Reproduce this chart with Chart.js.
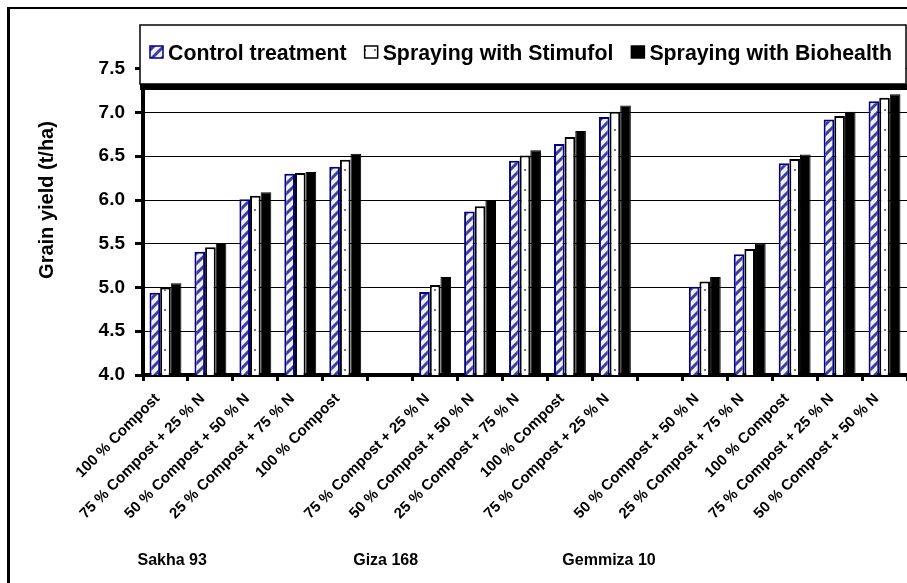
<!DOCTYPE html>
<html>
<head>
<meta charset="utf-8">
<script src="https://cdn.jsdelivr.net/npm/chart.js@4.4.1/dist/chart.umd.min.js"></script>
<style>
html, body { margin:0; padding:0; background:#fff; }
#wrap { width:907px; height:583px; position:relative; }
</style>
</head>
<body>
<div id="wrap"><canvas id="myChart" width="907" height="583"></canvas></div>
<script>
var treatments = ["100 % Compost", "75 % Compost + 25 % N", "50 % Compost + 50 % N", "25 % Compost + 75 % N",
  "100 % Compost", "", "75 % Compost + 25 % N", "50 % Compost + 50 % N", "25 % Compost + 75 % N",
  "100 % Compost", "75 % Compost + 25 % N", "", "50 % Compost + 50 % N", "25 % Compost + 75 % N",
  "100 % Compost", "75 % Compost + 25 % N", "50 % Compost + 50 % N"]
var controlYield   = [4.94, 5.41, 6.01, 6.30, 6.38, null, 4.95, 5.87, 6.45, 6.64, 6.95, null, 5.01, 5.38, 6.42, 6.92, 7.13]
var stimufolYield  = [5.00, 5.46, 6.05, 6.31, 6.46, null, 5.03, 5.93, 6.51, 6.72, 7.01, null, 5.07, 5.44, 6.47, 6.96, 7.17]
var biohealthYield = [5.05, 5.51, 6.09, 6.32, 6.53, null, 5.12, 6.00, 6.57, 6.79, 7.08, null, 5.12, 5.50, 6.52, 7.01, 7.21]
var seriesNames = ["Control treatment", "Spraying with Stimufol", "Spraying with Biohealth"]
var varieties = ["Sakha 93", "Giza 168", "Gemmiza 10"]
var varietyAt = [0.15, 4.9, 9.87]
var yMin = 4, yMax = 8, yStep = 0.5

var FONT = 'Arial, "Liberation Sans", sans-serif'

function hatchPattern() {
  var c = document.createElement('canvas'); c.width = 10; c.height = 10
  var g = c.getContext('2d')
  g.fillStyle = '#eef0ff'; g.fillRect(0, 0, 10, 10)
  g.strokeStyle = '#3d3d99'; g.lineWidth = 3
  g.beginPath(); g.moveTo(-2, 12); g.lineTo(12, -2); g.stroke()
  g.beginPath(); g.moveTo(-2, 2); g.lineTo(2, -2); g.stroke()
  g.beginPath(); g.moveTo(8, 12); g.lineTo(12, 8); g.stroke()
  return g.createPattern(c, 'repeat')
}
function dotPattern() {
  var c = document.createElement('canvas'); c.width = 10; c.height = 20
  var g = c.getContext('2d')
  g.fillStyle = '#ffffff'; g.fillRect(0, 0, 10, 20)
  g.fillStyle = '#777777'; g.fillRect(4, 9, 2, 2)
  return g.createPattern(c, 'repeat')
}

var framePlugin = {
  id: 'frame',
  beforeDraw: function(chart) {
    var ctx = chart.ctx
    ctx.save()
    ctx.fillStyle = '#fff'; ctx.fillRect(0, 0, chart.width, chart.height)
    ctx.fillStyle = '#000'
    ctx.fillRect(7, 7, chart.width - 7, 2)
    ctx.fillRect(7, 7, 3, chart.height - 7)
    ctx.restore()
  },
  afterDraw: function(chart) {
    var ctx = chart.ctx
    ctx.save()
    // legend box over the top of the plot
    var L = 140, T = 25, R = 906, B = 84
    ctx.fillStyle = '#fff'; ctx.fillRect(L, T - 2, R - L, B - T + 2)
    ctx.strokeStyle = '#000'; ctx.lineWidth = 1.5; ctx.strokeRect(L, T, R - L, B - T)
    ctx.fillStyle = '#000'; ctx.fillRect(L, B, R - L + 1, 6)
    ctx.font = 'bold 21.3px ' + FONT
    ctx.textBaseline = 'alphabetic'
    var x = 150
    chart.data.datasets.forEach(function(ds) {
      ctx.fillStyle = ds.backgroundColor
      ctx.fillRect(x, 46, 13, 12)
      ctx.strokeStyle = ds.borderColor; ctx.lineWidth = 1.5
      ctx.strokeRect(x, 46, 13, 12)
      ctx.fillStyle = '#000'
      ctx.fillText(ds.label, x + 18, 60)
      x += 18 + ctx.measureText(ds.label).width + 18
    })
    // variety names under the groups
    var xs = chart.scales.x
    ctx.font = 'bold 16px ' + FONT
    ctx.textAlign = 'center'
    varieties.forEach(function(v, i) {
      ctx.fillText(v, xs.getPixelForValue(varietyAt[i]), 565)
    })
    ctx.restore()
  }
}

new Chart("myChart", {
  type: "bar",
  data: {
    labels: treatments,
    datasets: [{
      label: seriesNames[0],
      data: controlYield,
      backgroundColor: hatchPattern(),
      borderColor: "#000080",
      borderWidth: 2
    }, {
      label: seriesNames[1],
      data: stimufolYield,
      backgroundColor: dotPattern(),
      borderColor: "#000",
      borderWidth: 2
    }, {
      label: seriesNames[2],
      data: biohealthYield,
      backgroundColor: "#000",
      borderColor: "#000",
      borderWidth: 1
    }]
  },
  options: {
    responsive: false,
    animation: false,
    categoryPercentage: 0.71,
    barPercentage: 1.0,
    layout: { padding: { left: 8, top: 25, right: 0, bottom: 0 } },
    plugins: { legend: { display: false }, tooltip: { enabled: false } },
    scales: {
      x: {
        grid: { drawOnChartArea: false, drawTicks: true, tickLength: 6, tickWidth: 3, tickColor: "#000", offset: true },
        border: { display: true, width: 4, color: "#000" },
        ticks: {
          autoSkip: false, minRotation: 45, maxRotation: 45, color: "#000", padding: 9, labelOffset: -8,
          font: { family: FONT, size: 15, weight: "bold" }
        },
        afterFit: function(s) { s.height = 208 }
      },
      y: {
        min: yMin, max: yMax,
        grid: {
          color: function(c) { return (c.tick && c.tick.value >= yMax) ? "rgba(0,0,0,0)" : "#000" },
          tickColor: function(c) { return (c.tick && c.tick.value >= yMax) ? "rgba(0,0,0,0)" : "#000" },
          lineWidth: 1, tickLength: 8, tickWidth: 3
        },
        border: { display: true, width: 4, color: "#000" },
        ticks: {
          stepSize: yStep, color: "#000", padding: 10,
          font: { family: FONT, size: 19, weight: "bold" },
          callback: function(v) { return v >= yMax ? "" : v.toFixed(1) }
        },
        title: {
          display: true, text: "Grain yield (t/ha)", color: "#000",
          font: { family: FONT, size: 20, weight: "bold" },
          padding: { top: 27, bottom: 0 }
        },
        afterFit: function(s) { s.width = 135 }
      }
    }
  },
  plugins: [framePlugin]
})
</script>
</body>
</html>
